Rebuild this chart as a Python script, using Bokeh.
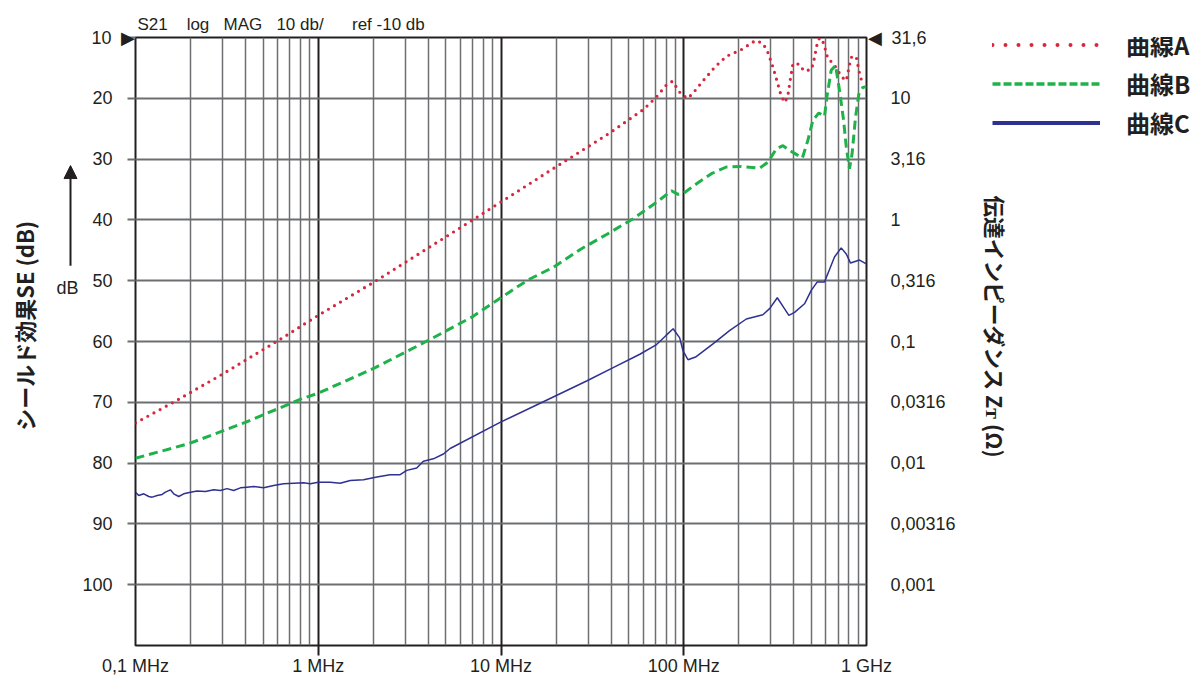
import math
from bokeh.plotting import figure
from bokeh.layouts import row
from bokeh.models import (Range1d, LogAxis, LinearAxis, FixedTicker, Legend, LegendItem,
                          Label, Arrow, NormalHead, Title)
from bokeh.embed import file_html
from bokeh.resources import INLINE

# ---------------- data (frequency in MHz, shielding effectiveness in dB) ----------------
A_freq = [0.1, 0.159, 0.298, 0.607, 1.0, 2.05, 6.92, 11.9, 19.7, 39.4, 60.4, 70.3, 80.4, 86.7,
          97.1, 105.5, 113.4, 128.6, 147.6, 171, 206.5, 246.4, 269, 285, 305, 323.5, 342, 358,
          371.5, 383, 395.6, 430, 454, 498.5, 513, 535, 553, 582, 615, 660, 733, 775, 807, 831,
          879, 916, 943]
A_db = [73.4, 70.1, 65.4, 59.8, 55.7, 50.1, 40.1, 35.6, 31.4, 25.7, 21.8, 19.9, 17.8, 17.2,
        19.4, 20.0, 19.0, 17.0, 14.9, 13.1, 12.0, 10.5, 10.9, 12.0, 14.5, 17.1, 19.7, 20.7,
        19.5, 16.9, 14.3, 14.4, 15.5, 15.3, 14.1, 11.3, 10.05, 10.9, 13.5, 14.3, 16.5, 17.1, 14.5,
        13.1, 13.2, 15.9, 17.2]

B_freq = [0.1, 0.196, 0.399, 0.815, 1.0, 2.05, 4.01, 6.92, 11.9, 14.1, 19.3, 27.0, 37.8, 52.9,
          71.0, 85.7, 93, 100, 117, 141.6, 171, 206.5, 260, 289, 321, 349, 395.6, 446, 478, 509,
          549, 589, 607, 641, 677, 712, 749, 775, 807, 834, 871, 908, 955, 1000]
B_db = [79.2, 76.8, 73.3, 69.4, 68.5, 64.3, 59.8, 56.0, 51.3, 49.85, 47.8, 44.9, 42.4, 39.8,
        37.1, 35.2, 35.8, 35.6, 34.1, 32.4, 31.3, 31.2, 31.5, 30.5, 28.3, 27.8, 28.9, 29.8, 26.9,
        23.6, 22.4, 23.0, 19.8, 15.4, 14.6, 18.7, 23.6, 28.0, 31.6, 29.1, 23.1, 19.3, 18.2, 18.1]

C_freq = [0.1, 0.1042, 0.111, 0.1182, 0.1234, 0.1314, 0.1399, 0.1458, 0.1552, 0.1619, 0.1724,
          0.1836, 0.2, 0.2174, 0.2413, 0.268, 0.2914, 0.317, 0.3445, 0.3749, 0.407, 0.443,
          0.5025, 0.57, 0.646, 0.733, 0.831, 0.904, 1.0, 1.163, 1.318, 1.496, 1.768, 2.094, 2.47,
          2.806, 3.05, 3.46, 3.76, 4.265, 4.84, 5.27, 9.88, 19.7, 29.4, 41.1, 57.5, 71.0, 80,
          87.5, 95, 99, 105.5, 117, 144.5, 178, 220, 271, 295, 325, 352, 376, 404, 458, 498.5,
          538, 589, 615, 668, 727, 775, 818, 916, 980, 1000]
C_db = [84.78, 85.33, 85.05, 85.49, 85.6, 85.33, 85.16, 84.78, 84.4, 85.05, 85.49, 85.05, 84.78,
        84.6, 84.67, 84.4, 84.5, 84.2, 84.5, 84.07, 83.96, 83.85, 84.07, 83.68, 83.4, 83.3,
        83.25, 83.4, 83.14, 83.14, 83.3, 82.86, 82.75, 82.3, 81.9, 81.9, 81.2, 80.8, 79.7, 79.3,
        78.5, 77.6, 73.3, 69.0, 66.5, 64.3, 62.1, 60.5, 59.0, 57.9, 59.4, 61.5, 63.0, 62.5,
        60.4, 58.2, 56.3, 55.6, 54.6, 52.8, 54.4, 55.7, 55.2, 53.8, 51.6, 50.2, 50.2, 48.8,
        46.1, 44.6, 45.6, 47.1, 46.6, 47.1, 47.2]

series_names = ["曲線A", "曲線B", "曲線C"]

x_ticks = [0.1, 1, 10, 100, 1000]
x_tick_labels = ["0,1 MHz", "1 MHz", "10 MHz", "100 MHz", "1 GHz"]
y_ticks = [10, 20, 30, 40, 50, 60, 70, 80, 90, 100]
z_tick_labels = ["31,6", "10", "3,16", "1", "0,316", "0,1", "0,0316", "0,01", "0,00316", "0,001"]

NB = "\u00a0"
title_text = "S21" + NB * 4 + "log" + NB * 3 + "MAG" + NB * 3 + "10 db/" + NB * 6 + "ref -10 db"
left_label = "シールド効果SE (dB)"
right_label = "伝達インピーダンス Zᴛ (Ω)"

# ---------------- styles ----------------
RED = "#d7263d"
GREEN = "#1fb24a"
NAVY = "#2e3192"
INK = "#231f20"
GRID = "#6d6e71"
LATIN = "Liberation Sans"
CJK = "Noto Sans CJK JP"
PAD = "\u2002\u2002\u00a0"   # gap between frame-side markers and numbers

H = 679
WL, WM, WR = 79, 881, 237

# ======================= main chart =======================
p = figure(width=WM, height=H, x_axis_type="log",
           x_range=Range1d(0.1, 1000), y_range=Range1d(110, 10),
           output_backend="svg", toolbar_location=None, title=None,
           min_border_left=56, min_border_right=94, min_border_top=37, min_border_bottom=34)
p.background_fill_color = "white"
p.border_fill_color = "white"
p.outline_line_color = INK
p.outline_line_width = 2

p.add_layout(Title(text=title_text, align="left", offset=2, standoff=7, text_font=LATIN,
                   text_font_size="17px", text_font_style="normal", text_color=INK), "above")

# grids
minor = [m * 10 ** e for e in range(-1, 3) for m in range(2, 10)]
p.xgrid.ticker = FixedTicker(ticks=x_ticks, minor_ticks=minor)
p.xgrid.grid_line_color = INK
p.xgrid.grid_line_width = 2
p.xgrid.minor_grid_line_color = GRID
p.xgrid.minor_grid_line_width = 1.5
p.ygrid.ticker = FixedTicker(ticks=y_ticks[1:])
p.ygrid.grid_line_color = GRID
p.ygrid.grid_line_width = 2

# left axis (triangle marker at the 10 dB reference)
left_over = {t: str(t) + PAD for t in y_ticks}
left_over[10] = "10" + NB * 2 + "\u25B6"
yl = p.left[0]
yl.ticker = FixedTicker(ticks=y_ticks)
yl.major_label_overrides = left_over
yl.major_tick_out = 8
yl.major_tick_in = 0
yl.minor_tick_out = 0
yl.minor_tick_in = 0
yl.major_tick_line_color = GRID
yl.major_tick_line_width = 2
yl.axis_line_color = None
yl.major_label_standoff = -8
yl.major_label_text_font = LATIN
yl.major_label_text_font_size = "18px"
yl.major_label_text_color = INK

# right axis (impedance scale)
right_over = {t: PAD + s for t, s in zip(y_ticks, z_tick_labels)}
right_over[10] = "\u25C0" + NB * 2 + z_tick_labels[0]
yr = LinearAxis(ticker=FixedTicker(ticks=y_ticks), major_label_overrides=right_over)
yr.major_tick_out = 0
yr.major_tick_in = 0
yr.minor_tick_out = 0
yr.minor_tick_in = 0
yr.axis_line_color = None
yr.major_label_standoff = 1
yr.major_label_text_font = LATIN
yr.major_label_text_font_size = "18px"
yr.major_label_text_color = INK
p.add_layout(yr, "right")

# bottom: tick marks only at inner decades
xb = p.below[0]
xb.ticker = FixedTicker(ticks=x_ticks[1:-1])
xb.major_tick_out = 10
xb.major_tick_in = 0
xb.minor_tick_out = 0
xb.minor_tick_in = 0
xb.major_tick_line_color = INK
xb.major_tick_line_width = 2
xb.axis_line_color = None
xb.major_label_text_font_size = "1px"
xb.major_label_text_alpha = 0
xb.major_label_standoff = 0

# bottom: labels
xl = LogAxis(ticker=FixedTicker(ticks=x_ticks),
             major_label_overrides={t: s for t, s in zip(x_ticks, x_tick_labels)})
xl.major_tick_out = 0
xl.major_tick_in = 0
xl.minor_tick_out = 0
xl.minor_tick_in = 0
xl.axis_line_color = None
xl.major_label_standoff = 0
xl.major_label_text_font = LATIN
xl.major_label_text_font_size = "18px"
xl.major_label_text_color = INK
p.add_layout(xl, "below")

# curves
p.line(A_freq, A_db, line_color=RED, line_width=3.2, line_dash="0 7", line_cap="round")
p.line(B_freq, B_db, line_color=GREEN, line_width=3, line_dash="9 5")
p.line(C_freq, C_db, line_color=NAVY, line_width=1.5)

# ======================= left strip: axis title, arrow, unit =======================
fl = figure(width=WL, height=H, x_range=Range1d(0, WL), y_range=Range1d(H, 0),
            output_backend="svg", toolbar_location=None, title=None, min_border=0,
            x_axis_location=None, y_axis_location=None)
fl.outline_line_color = None
fl.grid.visible = False
fl.add_layout(Label(x=23, y=322, text=left_label, angle=math.pi / 2, text_font=CJK,
                    text_font_style="bold", text_font_size="22px", text_color=INK,
                    text_align="center", text_baseline="middle"))
fl.add_layout(Arrow(x_start=70, y_start=255, x_end=70, y_end=143,
                    line_color=INK, line_width=2,
                    end=NormalHead(size=13, fill_color=INK, line_color=INK)))
fl.add_layout(Label(x=67, y=280, text="dB", text_font=LATIN, text_font_size="18px",
                    text_align="center", text_baseline="middle", text_color=INK))

# ======================= right strip: axis title and legend =======================
fr = figure(width=WR, height=H, x_range=Range1d(0, WR), y_range=Range1d(H, 0),
            output_backend="svg", toolbar_location=None, title=None, min_border=0,
            x_axis_location=None, y_axis_location=None)
fr.outline_line_color = None
fr.grid.visible = False
fr.add_layout(Label(x=35, y=323, text=right_label, angle=-math.pi / 2, text_font=CJK,
                    text_font_style="bold", text_font_size="21.7px", text_color=INK,
                    text_align="center", text_baseline="middle"))

nan = float("nan")
rA = fr.line([nan, nan], [nan, nan], line_color=RED, line_width=4, line_dash="0 13",
             line_cap="round")
rB = fr.line([nan, nan], [nan, nan], line_color=GREEN, line_width=3.5, line_dash="8 3")
rC = fr.line([nan, nan], [nan, nan], line_color=NAVY, line_width=4)
legend = Legend(items=[LegendItem(label=series_names[0], renderers=[rA]),
                       LegendItem(label=series_names[1], renderers=[rB]),
                       LegendItem(label=series_names[2], renderers=[rC])],
                location=(32, 505), glyph_width=108, glyph_height=35, label_height=35,
                label_standoff=26, spacing=4, padding=0, margin=0,
                border_line_color=None, background_fill_alpha=0,
                label_text_font=CJK, label_text_font_style="bold",
                label_text_font_size="24px", label_text_color=INK)
fr.add_layout(legend, "center")

layout = row(fl, p, fr, spacing=0)
open("out.html", "w").write(file_html(layout, INLINE))
